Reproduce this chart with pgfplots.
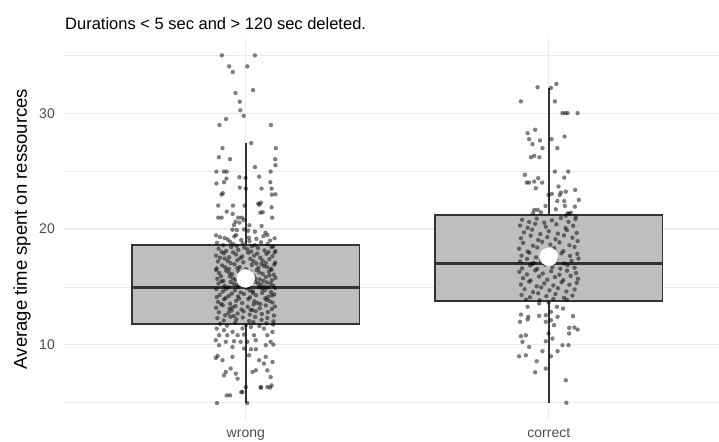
\documentclass[border=0pt]{standalone}
\usepackage{fontspec}
\setmainfont{Liberation Sans}
\usepackage{pgfplots}
\pgfplotsset{compat=1.18}
\definecolor{gridc}{HTML}{EBEBEB}
\definecolor{tickc}{HTML}{4D4D4D}
\definecolor{c33}{HTML}{333333}
\definecolor{boxgray}{HTML}{BEBEBE}
\begin{document}
\begin{tikzpicture}
\begin{axis}[
  width=655pt, height=382pt, scale only axis,
  xmin=0.4, xmax=2.5617, ymin=3.5, ymax=36.5,
  axis line style={draw=none},
  major tick length=0pt, minor tick length=0pt,
  xtick={1,2}, xticklabels={wrong,correct},
  ytick={10,20,30}, minor ytick={5,15,25,35},
  xmajorgrids, ymajorgrids, yminorgrids,
  major grid style={color=gridc, line width=1.1pt},
  minor grid style={color=gridc, line width=0.55pt},
  /pgf/number format/assume math mode=true,
  ticklabel style={font=\fontsize{14}{16}\selectfont, text=tickc},
  yticklabel style={anchor=east, inner sep=0pt, xshift=-9pt},
  xticklabel style={anchor=base, inner sep=0pt, yshift=-18pt},
]
% whiskers
\addplot[draw=c33, line width=1.6pt] coordinates {(1,5) (1,11.8)};
\addplot[draw=c33, line width=1.6pt] coordinates {(1,18.64) (1,27.4)};
\addplot[draw=c33, line width=1.6pt] coordinates {(2,5) (2,13.8)};
\addplot[draw=c33, line width=1.6pt] coordinates {(2,21.2) (2,32.2)};
% boxes
\addplot[draw=c33, fill=boxgray, line width=1.6pt] coordinates {(0.625,11.8) (1.375,11.8) (1.375,18.64) (0.625,18.64)} -- cycle;
\addplot[draw=c33, fill=boxgray, line width=1.6pt] coordinates {(1.625,13.8) (2.375,13.8) (2.375,21.2) (1.625,21.2)} -- cycle;
% medians
\addplot[draw=c33, line width=3.2pt] coordinates {(0.625,14.95) (1.375,14.95)};
\addplot[draw=c33, line width=3.2pt] coordinates {(1.625,17.03) (2.375,17.03)};
% jittered points: wrong
\addplot[only marks, mark=*, mark size=2.2pt, mark options={fill=black, fill opacity=0.5, draw opacity=0}] coordinates {
(0.921,35.0)(1.030,35.0)(0.945,34.05)(1.005,34.05)(0.957,33.56)(0.966,31.75)(1.024,32.0)(0.980,31.0)(0.982,30.25)(0.993,29.78)
(0.935,29.5)(0.913,28.98)(1.083,28.98)(1.018,27.42)(0.923,26.98)(1.099,26.98)(0.911,26.2)(0.948,26.03)(1.097,26.03)(1.098,25.51)
(1.030,25.34)(0.903,24.96)(0.928,24.96)(0.937,24.96)(1.082,24.96)(0.936,24.36)(0.979,24.47)(0.999,24.41)(1.044,24.52)(0.903,23.93)
(0.928,24.04)(0.980,23.58)(1.000,23.49)(1.052,23.49)(1.081,24.04)(1.085,23.49)(0.924,23.09)(0.920,22.97)(1.098,23.0)(1.086,22.97)
(0.909,22.02)(0.958,22.02)(0.996,22.02)(1.041,22.19)(1.050,22.28)(1.045,22.1)(1.085,21.88)(0.937,21.5)(0.957,21.3)(1.056,21.45)
(1.048,21.41)(0.909,20.98)(0.920,20.98)(0.975,20.98)(0.987,20.98)(1.087,20.98)(0.966,20.63)(0.979,20.55)(0.961,20.35)(0.993,20.78)
(1.012,20.32)(1.052,20.26)(0.970,19.91)(0.994,19.96)(0.956,19.94)(1.008,19.85)(1.030,19.77)(1.065,19.68)(0.902,19.45)(0.968,19.48)(1.071,19.48)
(0.915,19.3)(0.94,19.1)(0.962,19.35)(0.985,19.05)(1.01,19.25)(1.035,19.15)(1.058,19.38)(1.08,19.0)(1.095,19.2)(0.93,19.22)
(0.905,18.8)(0.925,18.6)(0.948,18.9)(0.97,18.55)(0.99,18.75)(1.012,18.95)(1.03,18.6)(1.05,18.85)(1.072,18.7)(1.09,18.5)(0.958,18.7)(1.02,18.52)
(0.91,18.3)(0.935,18.1)(0.952,18.45)(0.975,18.2)(0.995,18.4)(1.018,18.05)(1.04,18.35)(1.062,18.15)(1.085,18.42)(1.098,18.1)(0.92,18.02)(1.005,18.25)(1.075,18.0)
(0.902,17.7)(0.928,17.9)(0.945,17.55)(0.968,17.8)(0.988,17.62)(1.008,17.95)(1.028,17.7)(1.048,17.52)(1.068,17.85)(1.088,17.65)(0.915,17.52)(0.958,17.98)(1.038,17.88)(1.095,17.96)
(0.908,17.2)(0.93,17.45)(0.95,17.05)(0.972,17.3)(0.992,17.12)(1.015,17.42)(1.035,17.02)(1.055,17.28)(1.078,17.4)(1.097,17.1)(0.94,17.25)(0.982,17.48)(1.025,17.22)(1.066,17.08)
(0.904,16.6)(0.922,16.85)(0.944,16.55)(0.963,16.95)(0.98,16.7)(1.0,16.52)(1.02,16.9)(1.042,16.65)(1.06,16.8)(1.082,16.58)(1.094,16.92)(0.932,16.7)(0.972,16.62)(1.052,16.98)(1.07,16.72)
(0.912,16.2)(0.935,16.4)(0.955,16.1)(0.976,16.35)(0.996,16.02)(1.016,16.28)(1.036,16.45)(1.056,16.12)(1.076,16.3)(1.092,16.05)(0.902,16.45)(0.945,16.22)(1.004,16.42)(1.045,16.25)(1.085,16.48)
(0.906,15.7)(0.926,15.52)(0.947,15.9)(0.966,15.6)(0.986,15.82)(1.006,15.55)(1.026,15.95)(1.046,15.65)(1.066,15.85)(1.086,15.58)(1.098,15.78)(0.918,15.92)(0.958,15.72)(1.032,15.7)(1.058,15.52)(1.078,15.98)
(0.91,15.3)(0.93,15.08)(0.95,15.42)(0.97,15.15)(0.99,15.35)(1.01,15.05)(1.03,15.45)(1.05,15.2)(1.07,15.38)(1.09,15.1)(0.92,15.48)(0.96,15.25)(1.0,15.22)(1.04,15.32)(1.062,15.02)(1.082,15.28)
(0.903,14.8)(0.924,14.6)(0.943,14.95)(0.964,14.7)(0.983,14.52)(1.003,14.88)(1.023,14.62)(1.043,14.98)(1.063,14.72)(1.083,14.55)(1.097,14.9)(0.934,14.82)(0.974,14.97)(1.013,14.68)(1.053,14.85)(1.074,14.95)
(0.914,14.3)(0.934,14.05)(0.954,14.42)(0.974,14.18)(0.994,14.38)(1.014,14.1)(1.034,14.28)(1.054,14.48)(1.074,14.15)(1.094,14.35)(0.904,14.12)(0.944,14.22)(1.024,14.45)(1.064,14.02)(1.086,14.25)
(0.908,13.7)(0.928,13.92)(0.948,13.55)(0.968,13.8)(0.988,13.6)(1.008,13.95)(1.028,13.75)(1.048,13.52)(1.068,13.88)(1.088,13.65)(0.918,13.52)(0.978,13.98)(1.038,13.62)(1.078,13.78)
(0.902,13.2)(0.924,13.42)(0.946,13.1)(0.966,13.35)(0.986,13.05)(1.006,13.28)(1.026,13.48)(1.046,13.15)(1.066,13.4)(1.086,13.08)(0.956,13.22)(1.016,13.02)(1.096,13.3)
(0.911,12.8)(0.932,12.55)(0.953,12.95)(0.973,12.7)(0.993,12.88)(1.013,12.6)(1.033,12.9)(1.053,12.65)(1.073,12.82)(1.093,12.52)(0.943,12.75)(1.022,12.98)
(0.906,12.3)(0.927,12.1)(0.949,12.42)(0.969,12.2)(0.99,12.35)(1.011,12.05)(1.031,12.4)(1.052,12.15)(1.071,12.32)(1.091,12.02)(0.96,12.48)
(0.915,11.8)(0.938,11.65)(0.965,11.92)(1.0,11.7)(1.025,11.95)(1.045,11.62)(1.068,11.85)(1.09,11.75)
(0.904,11.4)(0.928,11.26)(0.956,11.11)(0.989,11.4)(1.017,11.54)(1.060,11.4)(1.088,11.11)(0.912,10.82)(0.939,10.82)(0.973,10.82)
(0.994,10.88)(1.027,10.82)(1.071,10.82)(0.901,10.39)(0.934,10.25)(0.961,10.3)(0.983,10.25)(1.005,10.25)(1.033,10.39)(1.082,10.25)
(0.912,9.96)(0.956,9.81)(0.994,9.67)(1.017,9.61)(1.033,9.61)(1.066,9.96)(1.091,10.01)(0.907,9.03)(0.901,8.86)(0.923,8.66)
(0.956,8.95)(1.011,9.09)(1.066,8.95)(1.044,8.66)(1.088,8.51)(1.060,8.37)(0.934,7.65)(0.950,7.94)(0.967,7.5)(0.973,7.07)
(1.022,7.65)(1.033,7.79)(1.071,7.79)(1.082,7.21)(0.928,7.36)(1.050,6.35)(1.071,6.35)(1.085,6.49)(1.000,6.35)(0.989,5.92)
(0.948,5.63)(0.905,4.96)(1.005,4.96)(0.937,5.62)(0.985,5.9)(1.049,6.28)(1.080,6.3)
};
% jittered points: correct
\addplot[only marks, mark=*, mark size=2.2pt, mark options={fill=black, fill opacity=0.5, draw opacity=0}] coordinates {
(1.963,32.24)(2.007,32.18)(2.025,32.53)(1.908,31.02)(2.020,31.02)(2.045,30.01)(2.054,30.01)(2.062,30.01)(2.095,30.01)(1.930,28.28)
(1.955,28.57)(1.935,27.76)(1.971,27.65)(1.946,27.33)(2.009,27.76)(2.052,27.99)(1.979,26.98)(2.028,26.98)(1.941,26.2)(1.952,26.32)
(1.969,26.2)(1.921,24.68)(1.927,24.01)(1.935,24.01)(1.952,24.1)(1.965,24.39)(1.978,24.01)(1.957,23.52)(2.020,24.96)(2.064,24.96)
(2.051,24.44)(1.999,22.94)(2.010,23.03)(2.032,23.67)(2.036,22.94)(2.040,23.15)(2.056,23.23)(2.087,23.38)(2.028,22.42)(2.051,22.42)
(2.099,22.51)(1.989,21.99)(2.023,21.7)(2.053,21.99)(2.086,21.93)(1.952,21.65)(1.963,21.65)(1.948,21.36)(1.974,21.44)(2.062,21.36)
(2.067,21.3)(2.056,21.15)(2.073,21.41)(2.089,21.07)
(1.912,20.8)(1.935,20.6)(1.96,20.9)(1.985,20.55)(2.01,20.75)(2.04,20.95)(2.065,20.62)(2.088,20.85)
(1.905,20.3)(1.93,20.1)(1.955,20.45)(1.99,20.2)(2.025,20.4)(2.055,20.08)(2.08,20.28)
(1.918,19.7)(1.945,19.95)(1.972,19.55)(2.0,19.8)(2.03,19.6)(2.06,19.9)(2.092,19.65)
(1.908,19.2)(1.94,19.42)(1.965,19.05)(1.995,19.3)(2.022,19.12)(2.05,19.45)(2.078,19.25)
(1.915,18.8)(1.948,18.55)(1.978,18.9)(2.005,18.65)(2.035,18.85)(2.068,18.6)(2.095,18.95)
(1.902,18.3)(1.93,18.05)(1.962,18.4)(1.99,18.15)(2.018,18.35)(2.048,18.1)(2.085,18.45)
(1.91,17.7)(1.936,17.95)(1.958,17.55)(1.982,17.8)(2.012,17.62)(2.042,17.9)(2.07,17.68)(2.094,17.85)
(1.905,17.2)(1.928,17.42)(1.95,17.05)(1.975,17.3)(2.0,17.12)(2.025,17.38)(2.05,17.02)(2.075,17.25)(2.098,17.45)
(1.912,16.6)(1.938,16.85)(1.962,16.55)(1.988,16.92)(2.012,16.7)(2.038,16.58)(2.062,16.88)(2.085,16.65)(1.945,16.98)
(1.903,16.3)(1.928,16.08)(1.955,16.42)(1.98,16.15)(2.008,16.35)(2.035,16.05)(2.06,16.4)(2.09,16.2)
(1.915,15.75)(1.94,15.55)(1.968,15.9)(1.995,15.62)(2.02,15.85)(2.048,15.58)(2.072,15.95)(2.096,15.7)
(1.908,15.2)(1.935,15.45)(1.96,15.05)(1.985,15.3)(2.015,15.12)(2.042,15.4)(2.068,15.18)(2.092,15.35)
(1.92,14.8)(1.948,14.55)(1.975,14.95)(2.002,14.7)(2.03,14.88)(2.058,14.6)(2.085,14.78)
(1.91,14.3)(1.938,14.1)(1.965,14.45)(1.992,14.2)(2.022,14.38)(2.05,14.05)(2.078,14.25)
(1.925,13.9)(1.97,13.85)(2.015,13.95)(2.06,13.88)
(1.930,13.28)(1.968,13.56)(1.999,13.65)(2.027,13.28)(2.047,13.13)(1.908,12.61)(1.932,12.41)(1.968,12.5)(1.990,12.55)(2.007,12.84)
(2.029,12.41)(2.080,12.47)(1.905,11.98)(1.930,12.18)(1.990,11.98)(2.017,11.69)(2.007,12.12)(2.067,11.46)(2.084,11.49)(2.095,11.31)
(1.908,10.74)(1.924,10.82)(1.999,10.97)(2.012,10.53)(2.067,10.97)(1.913,10.25)(1.990,10.3)(1.935,9.81)(2.045,9.96)(2.065,9.96)
(1.902,9.0)(1.924,9.09)(1.979,9.44)(2.007,9.0)(2.029,9.44)(1.960,8.57)(1.955,7.62)(1.990,7.94)(2.056,6.93)(2.058,4.99)
};
% means
\addplot[only marks, mark=*, mark size=9pt, mark options={fill=white, draw=white}] coordinates {(1,15.73) (2,17.6)};
\end{axis}
\node[rotate=90, anchor=base, inner sep=0pt, font=\fontsize{18.5}{22}\selectfont] at ([xshift=-37pt]current axis.west) {Average time spent on ressources};
\node[anchor=base west, inner sep=0pt, font=\fontsize{16.5}{20}\selectfont] at ([xshift=1pt,yshift=8pt]current axis.north west) {Durations < 5 sec and > 120 sec deleted.};
\pgfresetboundingbox
\path[use as bounding box] ([xshift=-64pt,yshift=-22pt]current axis.south west) rectangle ([yshift=38pt]current axis.north east);
\end{tikzpicture}
\end{document}
